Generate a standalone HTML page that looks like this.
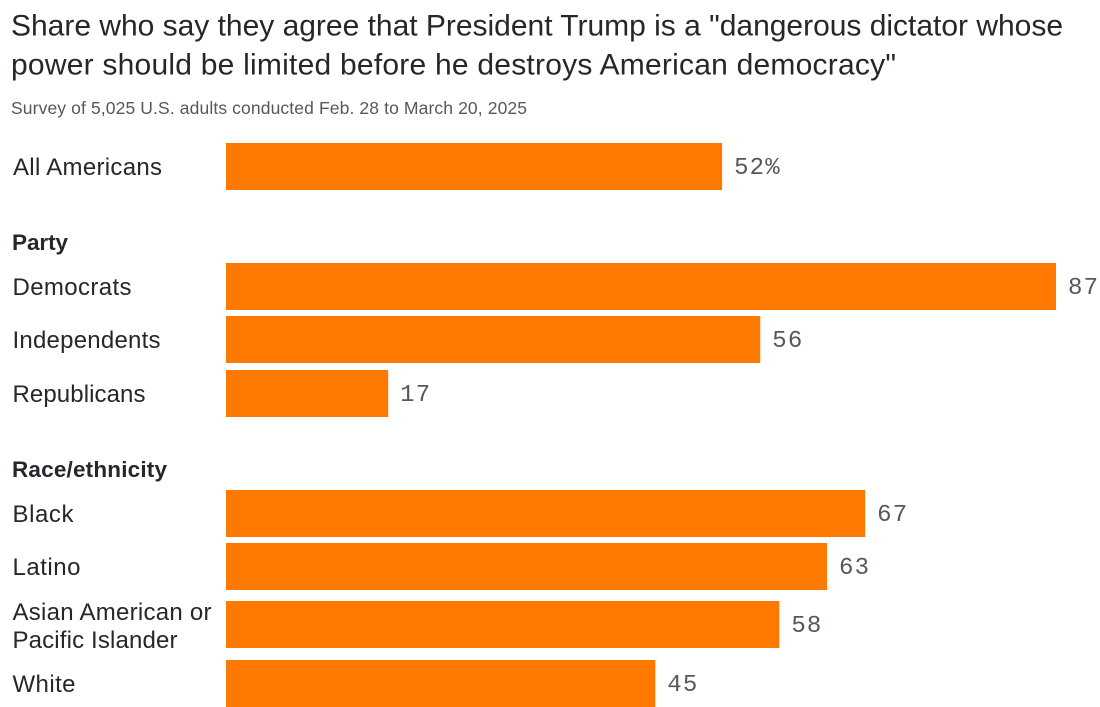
<!DOCTYPE html>
<html lang="en">
<head>
<meta charset="utf-8">
<title>Share who agree Trump is a dangerous dictator</title>
<style>
html,body{margin:0;padding:0;background:#fff;width:1100px;height:707px;overflow:hidden}
svg{display:block}
text{font-family:"Liberation Sans",sans-serif}
.title{font-size:30px;fill:#24272b}
.sub{font-size:17.5px;fill:#55585c}
.cat{font-size:24px;fill:#24272b}
.group{font-size:22.5px;font-weight:bold;fill:#24272b}
.val{font-family:"Liberation Mono",monospace;font-size:24px;fill:#55585c;letter-spacing:1.2px}
</style>
</head>
<body>
<svg id="chart" width="1100" height="707" viewBox="0 0 1100 707" xmlns="http://www.w3.org/2000/svg">
<text class="title" x="11" y="35.5" textLength="1052" lengthAdjust="spacing">Share who say they agree that President Trump is a "dangerous dictator whose</text>
<text class="title" x="11" y="74.5" textLength="885" lengthAdjust="spacing">power should be limited before he destroys American democracy"</text>
<text class="sub" x="11" y="114" textLength="516" lengthAdjust="spacing">Survey of 5,025 U.S. adults conducted Feb. 28 to March 20, 2025</text>
<text class="group" x="12" y="250" textLength="56" lengthAdjust="spacing">Party</text>
<text class="group" x="12" y="477" textLength="155" lengthAdjust="spacing">Race/ethnicity</text>
<g id="bars"></g>
</svg>
<script>
const categories = ["All Americans", "Democrats", "Independents", "Republicans", "Black", "Latino", "Asian American or|Pacific Islander", "White"];
const shares = [52, 87, 56, 17, 67, 63, 58, 45];
const valueLabels = ["52%", "87", "56", "17", "67", "63", "58", "45"];
const rowTops = [143, 263, 316, 370, 490, 543, 601, 660];
const labelWidths = [149, 119, 148, 133, 61, 68, 199, 63];
const xScale = v => 226 + v * 9.54;
const barHeight = 47;
const NS = "http://www.w3.org/2000/svg";
const group = document.getElementById("bars");
categories.forEach((cat, i) => {
  const y = rowTops[i];
  const slug = cat.split("|")[0].toLowerCase().replace(/[^a-z]+/g, "-");
  const rect = document.createElementNS(NS, "rect");
  
  
  rect.setAttribute("x", xScale(0));
  rect.setAttribute("y", y);
  rect.setAttribute("width", xScale(shares[i]) - xScale(0));
  rect.setAttribute("height", barHeight);
  rect.setAttribute("fill", "#ff7900");
  group.appendChild(rect);
  const val = document.createElementNS(NS, "text");
  
  
  val.setAttribute("class", "val");
  val.setAttribute("x", xScale(shares[i]) + 12);
  val.setAttribute("y", y + 31);
  val.textContent = valueLabels[i];
  group.appendChild(val);
  const lines = cat.split("|");
  lines.forEach((line, j) => {
    const t = document.createElementNS(NS, "text");
    
    
    t.setAttribute("class", "cat");
    t.setAttribute("x", i === 0 ? 13 : 12.5);
    t.setAttribute("y", lines.length > 1 ? y + 19 + j * 28 : y + 32);
    if (lines.length === 1) {
      t.setAttribute("textLength", labelWidths[i]);
    } else {
      t.setAttribute("textLength", j === 0 ? labelWidths[i] : 165);
    }
    t.setAttribute("lengthAdjust", "spacing");
    t.textContent = line;
    group.appendChild(t);
  });
});
</script>
</body>
</html>
